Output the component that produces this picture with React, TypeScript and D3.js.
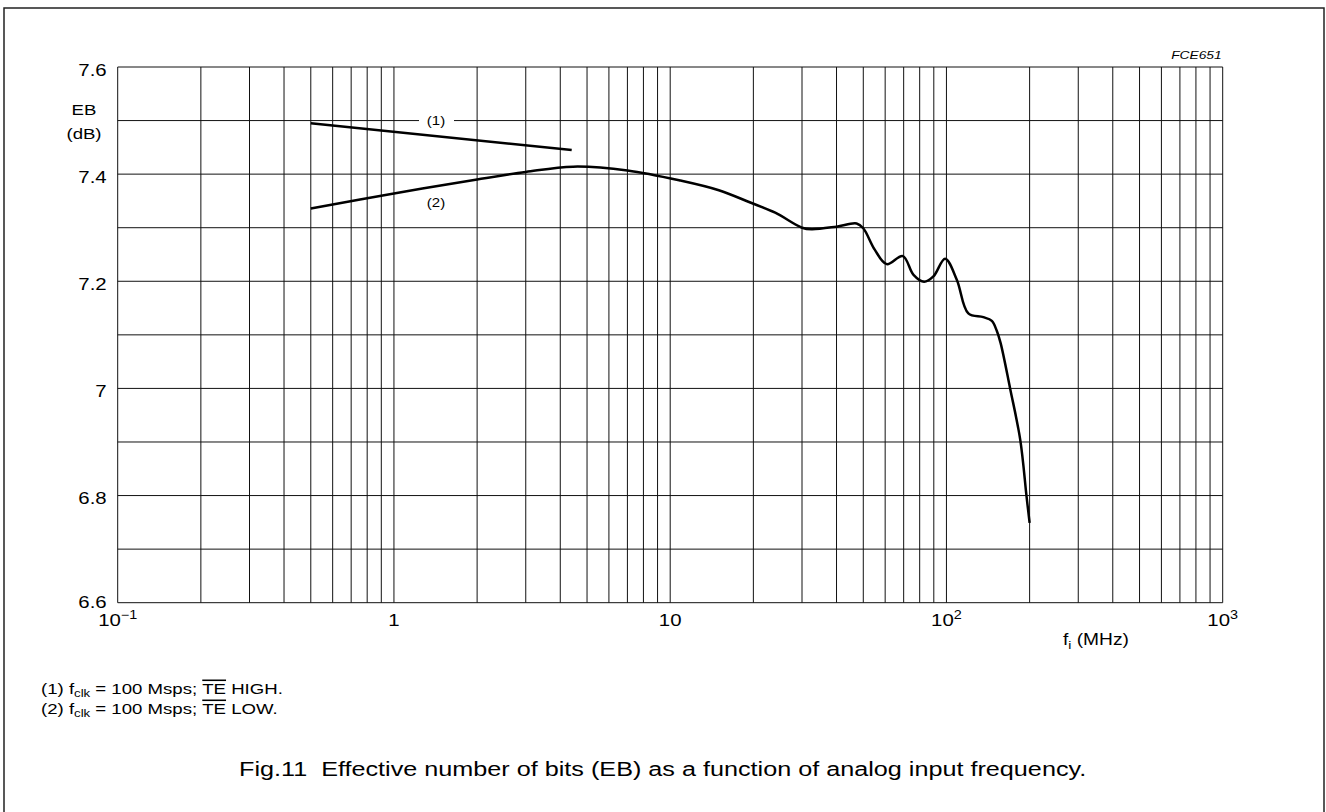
import React from 'react';
import * as d3 from 'd3';

// curve (1): fclk = 100 Msps, TE HIGH
const freq1 = [0.5, 4.4];
const eb1 = [7.495, 7.445];

// curve (2): fclk = 100 Msps, TE LOW
const freq2 = [0.5, 1, 2, 3, 4.45, 7, 10.9, 15, 19.5, 24, 30, 32.5, 40, 47.3, 50, 55, 60.8, 69.5, 76, 83, 89.7, 98.9, 109, 120, 136, 146, 152, 157, 170, 185, 195, 200];
const eb2 = [7.336, 7.364, 7.39, 7.404, 7.414, 7.407, 7.388, 7.37, 7.347, 7.328, 7.3, 7.297, 7.302, 7.308, 7.299, 7.259, 7.232, 7.247, 7.212, 7.199, 7.209, 7.242, 7.203, 7.14, 7.133, 7.126, 7.108, 7.085, 7.0, 6.904, 6.798, 6.749];

const yTicks = [6.6, 6.8, 7, 7.2, 7.4, 7.6];
const yTickLabels = ['6.6', '6.8', '7', '7.2', '7.4', '7.6'];
const xTicks = [0.1, 1, 10, 100, 1000];
const xTickBase = ['10', '1', '10', '10', '10'];
const xTickSup = ['\u22121', '', '', '2', '3'];

const W = 1326;
const H = 812;
const SX = 1.2; // glyphs in the reference are stretched sideways
const font = 'Arial, "Liberation Sans", Helvetica, sans-serif';

const x = d3.scaleLog().domain([0.1, 1000]).range([117.7, 1222.7]);
const y = d3.scaleLinear().domain([6.6, 7.6]).range([602.7, 67]);

function T({ x, y, size, anchor = 'start', style, children }: any) {
  return (
    <text
      transform={`translate(${x},${y}) scale(${SX},1)`}
      fontSize={size}
      textAnchor={anchor}
      fontFamily={font}
      fill="#000"
      style={style}
    >
      {children}
    </text>
  );
}

export default function App() {
  const line = d3
    .line<[number, number]>()
    .x((d) => x(d[0]))
    .y((d) => y(d[1]))
    .curve(d3.curveCatmullRom.alpha(0.5));

  const pts1 = freq1.map((f, i) => [f, eb1[i]] as [number, number]);
  const pts2 = freq2.map((f, i) => [f, eb2[i]] as [number, number]);

  const vGrid = x.ticks();
  const hGrid = d3.range(0, 11).map((i) => 6.6 + i * 0.1);
  const [x0, x1] = x.range();
  const [y0, y1] = y.range();

  return (
    <svg width={W} height={H} style={{ position: 'absolute', left: 0, top: 0, background: '#fff' }}>
      <rect x={4} y={8} width={1320} height={830} fill="#fff" stroke="#222" strokeWidth={1.5} />

      {vGrid.map((t, i) => (
        <line key={'v' + i} x1={x(t)} x2={x(t)} y1={y1} y2={y0} stroke="#111" strokeWidth={1} />
      ))}
      {hGrid.map((t, i) => (
        <line key={'h' + i} x1={x0} x2={x1} y1={y(t)} y2={y(t)} stroke="#111" strokeWidth={1} />
      ))}

      {/* gap in the 7.5 grid line for label (1) */}
      <rect x={419} y={y(7.5) - 3} width={35} height={6} fill="#fff" />

      <path d={line(pts1) || ''} fill="none" stroke="#000" strokeWidth={2.5} />
      <path d={line(pts2) || ''} fill="none" stroke="#000" strokeWidth={2.5} />

      <T x={436} y={125} size={12.5} anchor="middle">(1)</T>
      <T x={436} y={207} size={12.5} anchor="middle">(2)</T>

      {yTicks.map((v, i) => (
        <T key={'yt' + i} x={106.7} y={y(v) + (v === 6.6 ? 5.5 : 8.5)} size={17} anchor="end">
          {yTickLabels[i]}
        </T>
      ))}

      {xTicks.map((v, i) => (
        <T key={'xt' + i} x={x(v)} y={626} size={17} anchor="middle">
          {xTickBase[i]}
          {xTickSup[i] && (
            <tspan fontSize={12} dy={-7}>
              {xTickSup[i]}
            </tspan>
          )}
        </T>
      ))}

      <T x={84} y={115} size={15.5} anchor="middle">EB</T>
      <T x={84} y={139} size={15.5} anchor="middle">(dB)</T>

      <T x={1063} y={645} size={16}>
        f<tspan fontSize={11.5} dy={4}>i</tspan>
        <tspan dy={-4}> (MHz)</tspan>
      </T>

      <T x={1221.7} y={59} size={11.5} anchor="end" style={{ fontStyle: 'italic' }}>
        FCE651
      </T>

      <T x={41} y={694} size={15.5}>
        (1) f<tspan fontSize={11} dy={3}>clk</tspan>
        <tspan dy={-3}> = 100 Msps; </tspan>
        <tspan style={{ textDecoration: 'overline' }}>TE</tspan> HIGH.
      </T>
      <T x={41} y={714} size={15.5}>
        (2) f<tspan fontSize={11} dy={3}>clk</tspan>
        <tspan dy={-3}> = 100 Msps; </tspan>
        <tspan style={{ textDecoration: 'overline' }}>TE</tspan> LOW.
      </T>

      <T x={239} y={776} size={21}>
        Fig.11{'\u00a0\u00a0'}Effective number of bits (EB) as a function of analog input frequency.
      </T>
    </svg>
  );
}
